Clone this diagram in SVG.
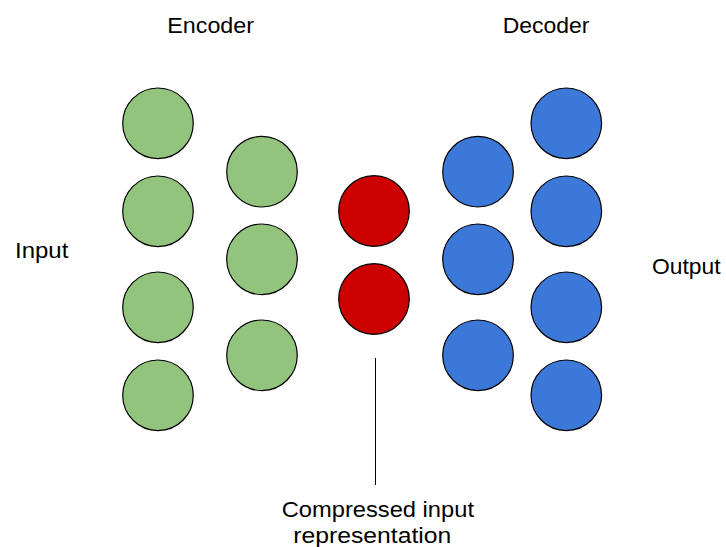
<svg xmlns="http://www.w3.org/2000/svg" width="726" height="547" viewBox="0 0 726 547">
  <style>
    .lbl { font-family: "Liberation Sans", Arial, sans-serif; fill: #000; }
    .node { stroke: #000; stroke-width: 1.2; }
    .enc { fill: #93c47d; }
    .code { fill: #cc0000; }
    .dec { fill: #3c78d8; }
    .conn { stroke: #000; stroke-width: 1; fill: none; }
  </style>
  <rect width="726" height="547" fill="#fff"/>

  <!-- titles and side labels -->
  <text class="lbl" x="167.3" y="33" font-size="22" textLength="86.7" lengthAdjust="spacingAndGlyphs">Encoder</text>
  <text class="lbl" x="502.7" y="33" font-size="22" textLength="86.7" lengthAdjust="spacingAndGlyphs">Decoder</text>
  <text class="lbl" x="15" y="257.5" font-size="22" textLength="53.3" lengthAdjust="spacingAndGlyphs">Input</text>
  <text class="lbl" x="652" y="273.5" font-size="22" textLength="68.5" lengthAdjust="spacingAndGlyphs">Output</text>

  <!-- encoder layer 1 -->
  <g id="enc1-1"><circle class="node enc" cx="158" cy="123.3" r="35.3"/></g>
  <g id="enc1-2"><circle class="node enc" cx="158" cy="211.3" r="35.3"/></g>
  <g id="enc1-3"><circle class="node enc" cx="158" cy="307.3" r="35.3"/></g>
  <g id="enc1-4"><circle class="node enc" cx="158" cy="395.3" r="35.3"/></g>

  <!-- encoder layer 2 -->
  <g id="enc2-1"><circle class="node enc" cx="262" cy="171.7" r="35.3"/></g>
  <g id="enc2-2"><circle class="node enc" cx="262" cy="259.3" r="35.3"/></g>
  <g id="enc2-3"><circle class="node enc" cx="262" cy="355.3" r="35.3"/></g>

  <!-- bottleneck code -->
  <g id="code-1"><circle class="node code" cx="374" cy="211" r="35.3"/></g>
  <g id="code-2"><circle class="node code" cx="374" cy="299" r="35.3"/></g>

  <!-- decoder layer 1 -->
  <g id="dec1-1"><circle class="node dec" cx="478" cy="171.7" r="35.3"/></g>
  <g id="dec1-2"><circle class="node dec" cx="478" cy="259.3" r="35.3"/></g>
  <g id="dec1-3"><circle class="node dec" cx="478" cy="355.3" r="35.3"/></g>

  <!-- decoder layer 2 -->
  <g id="dec2-1"><circle class="node dec" cx="566.3" cy="123.3" r="35.3"/></g>
  <g id="dec2-2"><circle class="node dec" cx="566.3" cy="211.3" r="35.3"/></g>
  <g id="dec2-3"><circle class="node dec" cx="566.3" cy="307.3" r="35.3"/></g>
  <g id="dec2-4"><circle class="node dec" cx="566.3" cy="395.3" r="35.3"/></g>

  <!-- pointer to the code layer -->
  <g id="connectors">
    <line class="conn" x1="375.5" y1="358" x2="375.5" y2="485"/>
  </g>

  <g id="code-label">
    <text class="lbl" x="281.7" y="517" font-size="22" textLength="192.3" lengthAdjust="spacingAndGlyphs">Compressed input</text>
    <text class="lbl" x="293.3" y="543" font-size="22" textLength="158" lengthAdjust="spacingAndGlyphs">representation</text>
  </g>
</svg>
